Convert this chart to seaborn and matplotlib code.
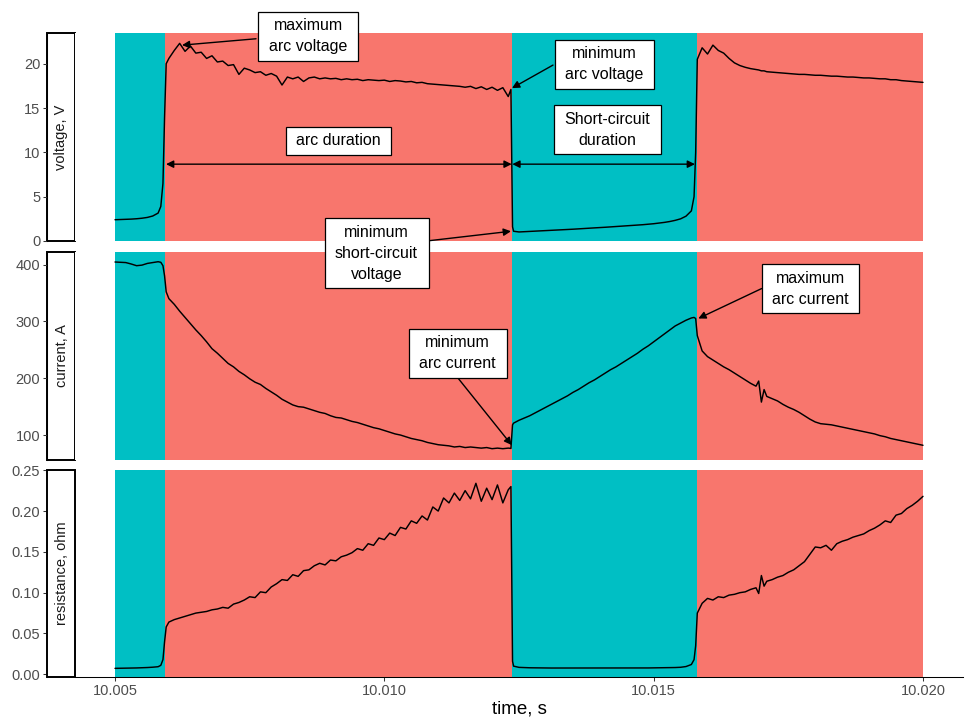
import numpy as np
import pandas as pd
import matplotlib
matplotlib.use("Agg")
import matplotlib.pyplot as plt
from matplotlib.patches import Rectangle
from matplotlib.ticker import FormatStrFormatter
import seaborn as sns

sns.set_theme(style="ticks")
plt.rcParams["font.family"] = ["Liberation Sans", "DejaVu Sans"]

# ---------------- data ----------------
time = [
    10.0050, 10.0051, 10.0052, 10.0053, 10.0054, 10.0055, 10.0056, 10.0057, 10.0058,
    10.00585, 10.00589, 10.00592, 10.00595,
    10.0060, 10.0061, 10.0062, 10.0063, 10.0064, 10.0065, 10.0066, 10.0067, 10.0068, 10.0069,
    10.0070, 10.0071, 10.0072, 10.0073, 10.0074, 10.0075, 10.0076, 10.0077, 10.0078, 10.0079,
    10.0080, 10.0081, 10.0082, 10.0083, 10.0084, 10.0085, 10.0086, 10.0087, 10.0088, 10.0089,
    10.0090, 10.0091, 10.0092, 10.0093, 10.0094, 10.0095, 10.0096, 10.0097, 10.0098, 10.0099,
    10.0100, 10.0101, 10.0102, 10.0103, 10.0104, 10.0105, 10.0106, 10.0107, 10.0108, 10.0109,
    10.0110, 10.0111, 10.0112, 10.0113, 10.0114, 10.0115, 10.0116, 10.0117, 10.0118, 10.0119,
    10.0120, 10.0121, 10.0122, 10.0123, 10.01235, 10.01238,
    10.0124, 10.0125, 10.0126, 10.0127, 10.0128, 10.0129,
    10.0130, 10.0131, 10.0132, 10.0133, 10.0134, 10.0135, 10.0136, 10.0137, 10.0138, 10.0139,
    10.0140, 10.0141, 10.0142, 10.0143, 10.0144, 10.0145, 10.0146, 10.0147, 10.0148, 10.0149,
    10.0150, 10.0151, 10.0152, 10.0153, 10.0154, 10.0155, 10.0156, 10.0157,
    10.01575, 10.01578, 10.01581,
    10.0159, 10.0160, 10.0161, 10.0162, 10.0163, 10.0164, 10.0165, 10.0166, 10.0167, 10.0168,
    10.0169, 10.01695, 10.0170, 10.01705,
    10.0171, 10.0172, 10.0173, 10.0174, 10.0175, 10.0176, 10.0177, 10.0178, 10.0179, 10.0180,
    10.0181, 10.0182, 10.0183, 10.0184, 10.0185, 10.0186, 10.0187, 10.0188, 10.0189, 10.0190,
    10.0191, 10.0192, 10.0193, 10.0194, 10.0195, 10.0196, 10.0197, 10.0198, 10.0199, 10.0200,
]

voltage = [
    2.40, 2.42, 2.44, 2.47, 2.51, 2.57, 2.66, 2.82, 3.15,
    3.9, 6.5, 14.0, 20.0,
    20.6, 21.5, 22.3, 21.4, 22.0, 21.2, 21.3, 20.6, 20.9, 20.2,
    20.3, 19.8, 19.9, 18.8, 19.5, 19.3, 19.0, 19.1, 18.7, 18.9,
    18.6, 17.6, 18.5, 18.3, 18.5, 18.0, 18.4, 18.5, 18.3, 18.4,
    18.3, 18.35, 18.2, 18.3, 18.2, 18.25, 18.1, 18.2, 18.15, 18.1,
    18.15, 18.0, 18.1, 18.05, 17.95, 18.0, 17.85, 17.9, 17.75, 17.7,
    17.65, 17.6, 17.55, 17.5, 17.45, 17.35, 17.45, 17.2, 17.4, 17.1,
    17.35, 17.0, 17.3, 16.3, 17.1, 1.6,
    1.10, 1.02, 1.05, 1.08, 1.11, 1.14,
    1.17, 1.20, 1.23, 1.26, 1.30, 1.33, 1.37, 1.40, 1.44, 1.48,
    1.51, 1.55, 1.59, 1.63, 1.67, 1.71, 1.75, 1.79, 1.84, 1.89,
    1.95, 2.02, 2.10, 2.20, 2.33, 2.50, 2.80, 3.40,
    5.0, 10.0, 20.5,
    21.8, 21.1, 22.1, 21.5, 21.2, 20.6, 20.1, 19.8, 19.6, 19.45,
    19.35, 19.3, 19.2, 19.2,
    19.1, 19.05, 19.0, 18.95, 18.9, 18.85, 18.8, 18.8, 18.75, 18.7,
    18.7, 18.65, 18.6, 18.6, 18.55, 18.5, 18.5, 18.45, 18.4, 18.4,
    18.35, 18.3, 18.3, 18.2, 18.2, 18.1, 18.05, 18.0, 17.95, 17.9,
]

current = [
    404.5, 404, 403.5, 401, 398, 399, 402, 403.5, 405,
    404, 398, 380, 352,
    340, 330, 318, 307, 296, 285, 275, 264, 252, 244,
    235, 226, 220, 212, 206, 199, 193, 189, 182, 176,
    170, 163, 158, 153, 150, 149, 146, 143, 140, 138,
    134, 131, 130, 127, 124, 122, 119, 116, 113, 111,
    108, 105, 102, 100, 97, 94, 92, 90, 87, 85,
    83, 82, 81, 79, 80, 78, 79, 78, 77, 78,
    76, 77, 76, 77, 76.5, 118,
    121, 126, 130, 134, 139, 144,
    149, 154, 159, 164, 169, 175, 180, 186, 192, 197,
    203, 209, 215, 220, 226, 232, 238, 244, 251, 257,
    264, 271, 278, 285, 292, 297, 302, 306,
    307, 305, 275,
    248, 238, 232, 226, 220, 215, 209, 203, 197, 191,
    186, 195, 158, 180,
    168, 164, 160, 154, 149, 145, 140, 134, 128, 123,
    120, 119, 118, 116, 114, 112, 110, 108, 106, 104,
    102, 99, 97, 94, 92, 90, 88, 86, 84, 82,
]

resistance = [
    0.0073, 0.0074, 0.0075, 0.0076, 0.0078, 0.0080, 0.0083, 0.0087, 0.0093,
    0.011, 0.018, 0.040, 0.058,
    0.064, 0.067, 0.069, 0.071, 0.073, 0.075, 0.076, 0.077, 0.079, 0.080,
    0.082, 0.081, 0.086, 0.088, 0.091, 0.095, 0.094, 0.101, 0.100, 0.107,
    0.111, 0.116, 0.115, 0.122, 0.120, 0.127, 0.128, 0.133, 0.136, 0.134,
    0.140, 0.139, 0.144, 0.146, 0.149, 0.154, 0.152, 0.160, 0.158, 0.167,
    0.165, 0.173, 0.170, 0.180, 0.178, 0.188, 0.185, 0.194, 0.189, 0.205,
    0.200, 0.216, 0.210, 0.222, 0.213, 0.225, 0.215, 0.234, 0.212, 0.228,
    0.214, 0.232, 0.210, 0.226, 0.230, 0.016,
    0.010, 0.0085, 0.0082, 0.0080, 0.0079, 0.0078,
    0.0078, 0.0077, 0.0077, 0.0077, 0.0077, 0.0077, 0.0077, 0.0077, 0.0077, 0.0077,
    0.0077, 0.0077, 0.0077, 0.0077, 0.0077, 0.0077, 0.0077, 0.0078, 0.0078, 0.0078,
    0.0079, 0.0079, 0.0080, 0.0081, 0.0083, 0.0086, 0.0095, 0.012,
    0.018, 0.035, 0.075,
    0.087, 0.093, 0.091, 0.095, 0.094, 0.097, 0.098, 0.100, 0.101, 0.104,
    0.106, 0.099, 0.121, 0.108,
    0.114, 0.116, 0.119, 0.121, 0.125, 0.128, 0.133, 0.138, 0.147, 0.156,
    0.155, 0.158, 0.152, 0.160, 0.163, 0.165, 0.168, 0.170, 0.172, 0.176,
    0.179, 0.183, 0.188, 0.186, 0.195, 0.197, 0.203, 0.207, 0.212, 0.218,
]

phase_start = [10.005, 10.00593, 10.01237, 10.01580]
phase_end = [10.00593, 10.01237, 10.01580, 10.020]
phase_type = ["short-circuit", "arc", "short-circuit", "arc"]
phase_colors = {"short-circuit": "#00BFC4", "arc": "#F8766D"}

panel_vars = ["voltage", "current", "resistance"]
panel_labels = ["voltage, V", "current, A", "resistance, ohm"]

df = pd.DataFrame({"time": time, "voltage": voltage,
                   "current": current, "resistance": resistance})

# ---------------- layout ----------------
W, H = 969, 722
fig = plt.figure(figsize=(W / 100, H / 100), dpi=100)
panels_px = [(33, 241), (252, 460), (470, 677)]
L, R = 75, 963
ylims = [(0, 23.47), (56.1, 422.1), (-0.0033, 0.2503)]
yticks = [[0, 5, 10, 15, 20], [100, 200, 300, 400],
          [0.0, 0.05, 0.10, 0.15, 0.20, 0.25]]
yfmt = ["%d", "%d", "%.2f"]
xlim = (10.004257, 10.020743)

axes = []
for i, (top, bot) in enumerate(panels_px):
    ax = fig.add_axes([L / W, 1 - bot / H, (R - L) / W, (bot - top) / H])
    axes.append(ax)
    for s, e, p in zip(phase_start, phase_end, phase_type):
        ax.axvspan(s, e, color=phase_colors[p], lw=0, zorder=0)
    sns.lineplot(data=df, x="time", y=panel_vars[i], ax=ax, color="black",
                 linewidth=1.05, estimator=None, zorder=3)
    ax.set_xlim(*xlim)
    ax.set_ylim(*ylims[i])
    ax.set_yticks(yticks[i])
    ax.yaxis.set_major_formatter(FormatStrFormatter(yfmt[i]))
    ax.set_ylabel("")
    ax.set_xlabel("")
    for sp in ["top", "right"]:
        ax.spines[sp].set_visible(False)
    ax.spines["left"].set_position(("outward", 20.16))
    ax.spines["left"].set_linewidth(0.75)
    ax.spines["left"].set_color("black")
    ax.tick_params(axis="y", left=True, direction="out", length=2.9, width=0.75,
                   color="#333333", labelsize=10.5, labelcolor="#4D4D4D", pad=2)
    if i < 2:
        ax.spines["bottom"].set_visible(False)
        ax.tick_params(axis="x", bottom=False, labelbottom=False)
    else:
        ax.spines["bottom"].set_linewidth(0.75)
        ax.spines["bottom"].set_color("black")
        ax.set_xticks([10.005, 10.010, 10.015, 10.020])
        ax.xaxis.set_major_formatter(FormatStrFormatter("%.3f"))
        ax.tick_params(axis="x", bottom=True, direction="out", length=2.9, width=0.75,
                       color="#333333", labelsize=10.5, labelcolor="#4D4D4D", pad=2)
        ax.set_xlabel("time, s", fontsize=13.5, color="black", labelpad=2)
    # strip
    fig.patches.append(Rectangle((47 / W, 1 - bot / H), 28 / W, (bot - top) / H,
                                 transform=fig.transFigure, facecolor="white",
                                 edgecolor="black", lw=1.4, zorder=2))
    fig.text(61.5 / W, 1 - (top + bot) / 2 / H, panel_labels[i], rotation=90,
             ha="center", va="center", fontsize=10.5, color="#1A1A1A", zorder=3)

ax_v, ax_i, ax_r = axes
ax_v.set_zorder(5)
ax_i.set_zorder(4)

arr = dict(arrowstyle="-|>", color="black", lw=1.0, shrinkA=0, shrinkB=0,
           mutation_scale=11)
darr = dict(arrowstyle="<|-|>", color="black", lw=1.0, shrinkA=0, shrinkB=0,
            mutation_scale=11)

labels = []


def label(ax, x, y, s):
    t = ax.text(x, y, s, ha="center", va="center", fontsize=11.5, linespacing=1.5,
                zorder=11, clip_on=False, color="black")
    labels.append((ax, t))


def arrow(ax, start, end, props=arr):
    ax.annotate("", xy=end, xytext=start, arrowprops=props,
                annotation_clip=False, zorder=9)


# voltage panel annotations
arrow(ax_v, (10.007618, 22.82), (10.006244, 22.1))
label(ax_v, 10.008583, 23.13, "maximum\narc voltage")
arrow(ax_v, (10.013131, 19.85), (10.01237, 17.25))
label(ax_v, 10.014087, 19.97, "minimum\narc voltage")
arrow(ax_v, (10.005947, 8.67), (10.012364, 8.67), darr)
label(ax_v, 10.009149, 11.32, "arc duration")
arrow(ax_v, (10.012376, 8.67), (10.015767, 8.67), darr)
label(ax_v, 10.014139, 12.54, "Short-circuit\nduration")
arrow(ax_v, (10.010811, 0.02), (10.012351, 1.10))
label(ax_v, 10.009855, -1.39, "minimum\nshort-circuit\nvoltage")

# current panel annotations
arrow(ax_i, (10.017005, 357.8), (10.015829, 305.1))
label(ax_i, 10.017911, 357.8, "maximum\narc current")
arrow(ax_i, (10.011373, 199.6), (10.012364, 82.4))
label(ax_i, 10.011362, 243.6, "minimum\narc current")

# label boxes: padded rectangles around the rendered text
fig.canvas.draw()
renderer = fig.canvas.get_renderer()
inv = fig.transFigure.inverted()
padx, pady = 10.5, 6.5
for ax, t in labels:
    bb = t.get_window_extent(renderer)
    (x0, y0) = inv.transform((bb.x0 - padx, bb.y0 - pady))
    (x1, y1) = inv.transform((bb.x1 + padx, bb.y1 + pady))
    rect = Rectangle((x0, y0), x1 - x0, y1 - y0, transform=fig.transFigure,
                     facecolor="white", edgecolor="black", lw=0.9,
                     zorder=10, clip_on=False)
    ax.add_artist(rect)

fig.savefig("out.png", dpi=100)
